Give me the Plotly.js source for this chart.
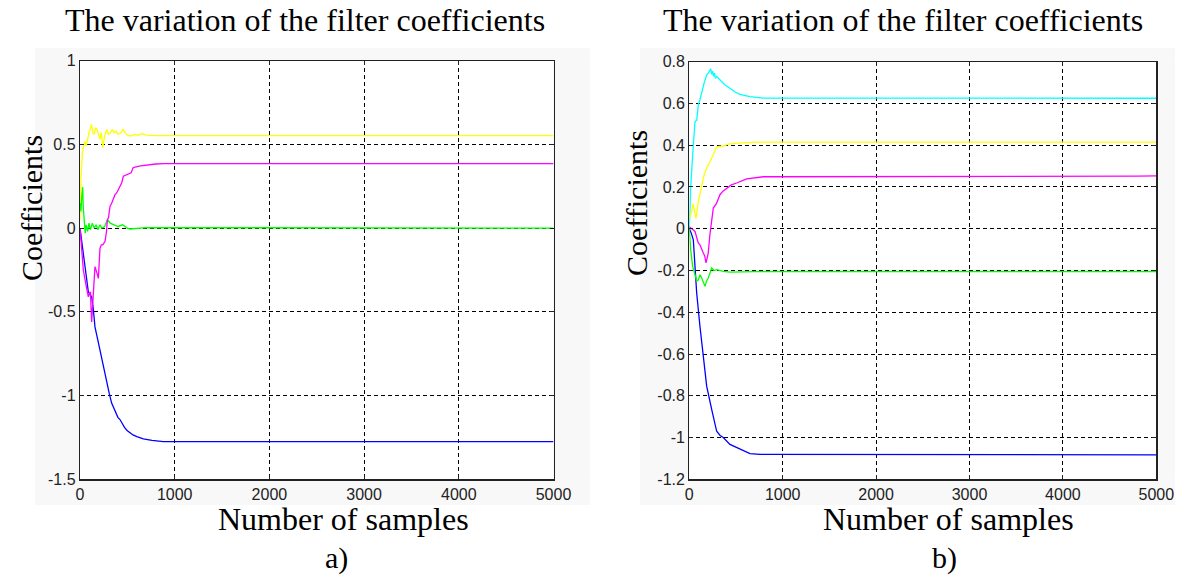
<!DOCTYPE html>
<html><head><meta charset="utf-8">
<script src="https://cdn.plot.ly/plotly-3.0.1.min.js"></script>
<style>html,body{margin:0;padding:0;background:#fff}#chart{width:1184px;height:578px}</style>
</head><body><div id="chart"></div>
<script>
// ---- Panel a) ----
const yellowA_x = [0, 10, 25, 50, 65, 80, 100, 123, 135, 150, 165, 180, 195, 210, 225, 240, 260, 282, 300, 320, 340, 360, 380, 400, 430, 455, 490, 528, 580, 620, 650, 700, 800, 5000];
const yellowA_y = [0.05, 0.3, 0.45, 0.52, 0.49, 0.53, 0.58, 0.62, 0.57, 0.56, 0.6, 0.59, 0.55, 0.53, 0.57, 0.48, 0.55, 0.59, 0.56, 0.57, 0.59, 0.57, 0.58, 0.56, 0.57, 0.59, 0.56, 0.55, 0.56, 0.555, 0.565, 0.555, 0.553, 0.553];
const greenA_x = [0, 10, 20, 28, 35, 45, 55, 65, 80, 95, 110, 130, 150, 170, 190, 210, 230, 260, 290, 320, 360, 400, 450, 500, 530, 600, 700, 5000];
const greenA_y = [0.15, 0.1, 0.2, 0.245, 0.12, 0.0, -0.03, 0.02, -0.02, 0.03, -0.01, 0.03, 0.0, 0.02, -0.01, 0.02, 0.0, 0.01, 0.05, 0.03, 0.02, 0.01, 0.02, 0.0, -0.005, 0.0, 0.003, 0.0];
const magentaA_x = [0, 15, 35, 60, 88, 100, 110, 123, 133, 141, 150, 158, 175, 194, 211, 225, 240, 264, 280, 289, 300, 317, 335, 350, 370, 387, 405, 420, 440, 458, 500, 540, 560, 581, 640, 704, 800, 880, 5000];
const magentaA_y = [0, -0.12, -0.25, -0.33, -0.41, -0.39, -0.38, -0.56, -0.45, -0.43, -0.3, -0.23, -0.26, -0.30, -0.12, -0.1, -0.1, -0.08, -0.02, 0.05, 0.06, 0.13, 0.15, 0.17, 0.2, 0.21, 0.23, 0.25, 0.27, 0.31, 0.32, 0.33, 0.36, 0.365, 0.372, 0.377, 0.383, 0.385, 0.385];
const blueA_x = [0, 25, 53, 70, 88, 110, 123, 140, 158, 185, 211, 245, 282, 310, 334, 360, 380, 400, 422, 445, 470, 500, 528, 560, 600, 669, 760, 880, 5000];
const blueA_y = [0, -0.1, -0.23, -0.30, -0.38, -0.40, -0.41, -0.48, -0.59, -0.66, -0.73, -0.83, -0.925, -0.99, -1.045, -1.08, -1.10, -1.13, -1.143, -1.17, -1.19, -1.21, -1.222, -1.235, -1.245, -1.258, -1.268, -1.275, -1.275];

// ---- Panel b) ----
const cyanB_x = [0, 15, 36, 61, 80, 96, 115, 133, 160, 186, 210, 229, 240, 250, 260, 270, 280, 293, 328, 380, 435, 490, 543, 650, 792, 5000];
const cyanB_y = [0, 0.2, 0.354, 0.513, 0.52, 0.593, 0.62, 0.657, 0.70, 0.737, 0.75, 0.766, 0.74, 0.755, 0.73, 0.745, 0.72, 0.729, 0.713, 0.69, 0.673, 0.655, 0.644, 0.633, 0.626, 0.625];
const yellowB_x = [0, 26, 40, 55, 72, 96, 115, 133, 160, 186, 220, 257, 290, 310, 360, 417, 520, 720, 5000];
const yellowB_y = [0.05, 0.083, 0.12, 0.08, 0.05, 0.13, 0.17, 0.21, 0.26, 0.29, 0.32, 0.354, 0.39, 0.394, 0.395, 0.405, 0.41, 0.415, 0.415];
const magentaB_x = [0, 26, 61, 96, 114, 150, 165, 179, 190, 203, 220, 240, 257, 290, 328, 360, 400, 450, 507, 614, 792, 4750, 4800, 5000];
const magentaB_y = [0.01, 0.0, -0.013, -0.068, -0.077, -0.116, -0.13, -0.164, -0.14, -0.116, -0.03, 0.043, 0.099, 0.12, 0.163, 0.18, 0.195, 0.21, 0.219, 0.239, 0.249, 0.249, 0.252, 0.253];
const greenB_x = [0, 15, 36, 61, 80, 96, 115, 133, 150, 168, 185, 203, 240, 265, 293, 330, 364, 435, 700, 5000];
const greenB_y = [0, -0.1, -0.18, -0.228, -0.25, -0.246, -0.22, -0.236, -0.26, -0.276, -0.25, -0.236, -0.188, -0.20, -0.196, -0.2, -0.204, -0.208, -0.205, -0.205];
const blueB_x = [0, 20, 43, 79, 114, 150, 186, 240, 293, 330, 364, 435, 543, 650, 757, 5000];
const blueB_y = [0, -0.02, -0.053, -0.308, -0.467, -0.611, -0.754, -0.866, -0.97, -0.99, -1.0, -1.033, -1.057, -1.077, -1.081, -1.083];

// ---- Ticks & texts ----
const xTickVals = [0, 1000, 2000, 3000, 4000, 5000];
const xTickText = ['0', '1000', '2000', '3000', '4000', '5000'];
const yTickValsA = [-1.5, -1, -0.5, 0, 0.5, 1];
const yTickTextA = ['-1.5', '-1', '-0.5', '0', '0.5', '1'];
const yTickValsB = [-1.2, -1, -0.8, -0.6, -0.4, -0.2, 0, 0.2, 0.4, 0.6, 0.8];
const yTickTextB = ['-1.2', '-1', '-0.8', '-0.6', '-0.4', '-0.2', '0', '0.2', '0.4', '0.6', '0.8'];
const titleText = 'The variation of the filter coefficients';
const xTitleText = 'Number of samples';
const yTitleText = 'Coefficients';
const panelLabels = ['a)', 'b)'];

function tr(x, y, color, xa, ya) {
  return {x: x, y: y, type: 'scatter', mode: 'lines', xaxis: xa, yaxis: ya,
          line: {color: color, width: 1.3}, showlegend: false, hoverinfo: 'skip'};
}
const data = [
  tr(yellowA_x, yellowA_y, '#ffff00', 'x', 'y'),
  tr(greenA_x, greenA_y, '#00ff00', 'x', 'y'),
  tr(blueA_x, blueA_y, '#0000ff', 'x', 'y'),
  tr(magentaA_x, magentaA_y, '#ff00ff', 'x', 'y'),
  tr(cyanB_x, cyanB_y, '#00ffff', 'x2', 'y2'),
  tr(yellowB_x, yellowB_y, '#ffff00', 'x2', 'y2'),
  tr(magentaB_x, magentaB_y, '#ff00ff', 'x2', 'y2'),
  tr(blueB_x, blueB_y, '#0000ff', 'x2', 'y2'),
  tr(greenB_x, greenB_y, '#00ff00', 'x2', 'y2')
];

const tickFont = {family: 'Liberation Sans, Arial, sans-serif', size: 16, color: '#222'};
function xax(dom, anchor) {
  return {domain: dom, anchor: anchor, range: [0, 5000], tickvals: xTickVals, ticktext: xTickText,
    showgrid: true, gridcolor: '#000', griddash: '4px,3px', gridwidth: 1, zeroline: false,
    showline: true, linecolor: '#222', linewidth: 1.2, mirror: 'ticks', ticks: 'inside', ticklen: 4, tickcolor: '#222',
    tickfont: tickFont, fixedrange: true};
}
function yax(dom, anchor, range, vals, text) {
  return {domain: dom, anchor: anchor, range: range, tickvals: vals, ticktext: text,
    showgrid: true, gridcolor: '#000', griddash: '4px,3px', gridwidth: 1, zeroline: false,
    showline: true, linecolor: '#222', linewidth: 1.2, mirror: 'ticks', ticks: 'inside', ticklen: 4, tickcolor: '#222',
    tickfont: tickFont, fixedrange: true};
}
function frame(x0, x1, y0, y1, px0, px1, py0, py1) {
  // light grey figure frame around the (white) plot area, as four strips
  const c = '#f8f8f8';
  const mk = (a, b, c0, d) => ({type: 'rect', xref: 'paper', yref: 'paper', x0: a/1184, x1: b/1184, y0: 1-d/578, y1: 1-c0/578, fillcolor: c, line: {width: 0}, layer: 'below'});
  return [mk(x0, x1, y0, py0), mk(x0, x1, py1, y1), mk(x0, px0, py0, py1), mk(px1, x1, py0, py1)];
}
const serif = 'Liberation Serif, Times New Roman, serif';
const layout = {
  width: 1184, height: 578, margin: {l: 0, r: 0, t: 0, b: 0},
  paper_bgcolor: '#ffffff', plot_bgcolor: '#ffffff', showlegend: false,
  xaxis: xax([80/1184, 553.5/1184], 'y'),
  yaxis: yax([1-479.3/578, 1-60.7/578], 'x', [-1.5, 1], yTickValsA, yTickTextA),
  xaxis2: xax([689.3/1184, 1156.3/1184], 'y2'),
  yaxis2: yax([1-479.3/578, 1-61.7/578], 'x2', [-1.2, 0.8], yTickValsB, yTickTextB),
  shapes: [].concat(frame(35, 590, 48, 505, 80, 553.5, 60.7, 479.3), frame(640, 1175, 48, 505, 689.3, 1156.3, 61.7, 479.3)),
  annotations: [
    {text: titleText, xref: 'paper', yref: 'paper', x: 305/1184, y: 1-20/578, showarrow: false, xanchor: 'center', yanchor: 'middle', font: {family: serif, size: 32, color: '#000'}},
    {text: titleText, xref: 'paper', yref: 'paper', x: 903/1184, y: 1-20/578, showarrow: false, xanchor: 'center', yanchor: 'middle', font: {family: serif, size: 32, color: '#000'}},
    {text: yTitleText, xref: 'paper', yref: 'paper', x: 32/1184, y: 1-208/578, showarrow: false, textangle: -90, xanchor: 'center', yanchor: 'middle', font: {family: serif, size: 30, color: '#000'}},
    {text: yTitleText, xref: 'paper', yref: 'paper', x: 637/1184, y: 1-203/578, showarrow: false, textangle: -90, xanchor: 'center', yanchor: 'middle', font: {family: serif, size: 30, color: '#000'}},
    {text: xTitleText, xref: 'paper', yref: 'paper', x: 343/1184, y: 1-519/578, showarrow: false, xanchor: 'center', yanchor: 'middle', font: {family: serif, size: 32, color: '#000'}},
    {text: xTitleText, xref: 'paper', yref: 'paper', x: 948/1184, y: 1-519/578, showarrow: false, xanchor: 'center', yanchor: 'middle', font: {family: serif, size: 32, color: '#000'}},
    {text: panelLabels[0], xref: 'paper', yref: 'paper', x: 336/1184, y: 1-558/578, showarrow: false, xanchor: 'center', yanchor: 'middle', font: {family: serif, size: 30, color: '#000'}},
    {text: panelLabels[1], xref: 'paper', yref: 'paper', x: 944/1184, y: 1-558/578, showarrow: false, xanchor: 'center', yanchor: 'middle', font: {family: serif, size: 30, color: '#000'}}
  ]
};
Plotly.newPlot('chart', data, layout, {displayModeBar: false, staticPlot: true});
</script></body></html>
